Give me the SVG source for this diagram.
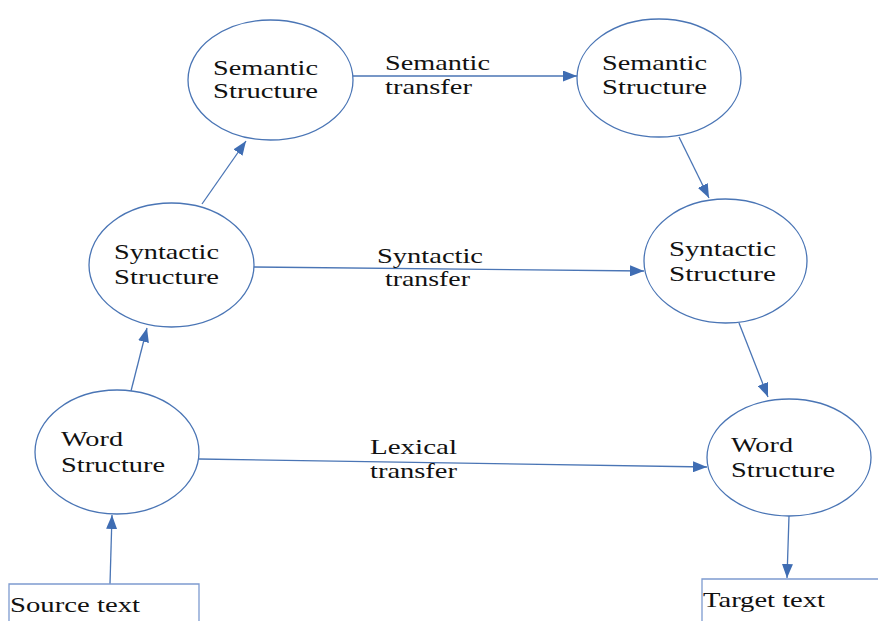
<svg xmlns="http://www.w3.org/2000/svg" width="878" height="621" viewBox="0 0 878 621">
  <style>
    .node { fill: #ffffff; stroke: #4a75b5; stroke-width: 1.3; }
    .box { fill: #ffffff; stroke: #7d9bd0; stroke-width: 1.3; }
    .edge { fill: none; stroke: #4a75b5; stroke-width: 1.3; }
    text { font-family: "Liberation Serif", "Times New Roman", serif; font-size: 21px; fill: #111111; }
  </style>
  <defs>
    <marker id="arrow" markerUnits="userSpaceOnUse" markerWidth="15" markerHeight="11" refX="14" refY="5.5" orient="auto">
      <path d="M0,0 L14,5.5 L0,11 z" fill="#3f6db3"/>
    </marker>
  </defs>
  <rect width="878" height="621" fill="#ffffff"/>

  <!-- connectors -->
  <g id="connectors">
    <line class="edge" x1="110" y1="584" x2="112" y2="515" marker-end="url(#arrow)"/>
    <line class="edge" x1="131" y1="391" x2="147" y2="328" marker-end="url(#arrow)"/>
    <line class="edge" x1="202" y1="204" x2="246" y2="141" marker-end="url(#arrow)"/>
    <line class="edge" x1="353" y1="76" x2="577" y2="76" marker-end="url(#arrow)"/>
    <line class="edge" x1="679" y1="137" x2="709" y2="198" marker-end="url(#arrow)"/>
    <line class="edge" x1="254" y1="267" x2="644" y2="271" marker-end="url(#arrow)"/>
    <line class="edge" x1="739" y1="323" x2="768" y2="397" marker-end="url(#arrow)"/>
    <line class="edge" x1="199" y1="459" x2="707" y2="467" marker-end="url(#arrow)"/>
    <line class="edge" x1="789" y1="516" x2="787" y2="578" marker-end="url(#arrow)"/>
    <text x="385" y="70" textLength="105" lengthAdjust="spacingAndGlyphs">Semantic</text>
    <text x="385" y="94" textLength="87" lengthAdjust="spacingAndGlyphs">transfer</text>
    <text x="377" y="263" textLength="106" lengthAdjust="spacingAndGlyphs">Syntactic</text>
    <text x="385" y="286" textLength="85" lengthAdjust="spacingAndGlyphs">transfer</text>
    <text x="370" y="454" textLength="87" lengthAdjust="spacingAndGlyphs">Lexical</text>
    <text x="370" y="478" textLength="87" lengthAdjust="spacingAndGlyphs">transfer</text>
  </g>

  <!-- source side -->
  <g id="source-text">
    <polyline class="box" points="9,622 9,584 199,584 199,622"/>
    <text x="10" y="612" textLength="130" lengthAdjust="spacingAndGlyphs">Source text</text>
  </g>
  <g id="word-structure-source">
    <ellipse class="node" cx="117" cy="452" rx="82" ry="62"/>
    <text x="61" y="446" textLength="62" lengthAdjust="spacingAndGlyphs">Word</text>
    <text x="61" y="472" textLength="104" lengthAdjust="spacingAndGlyphs">Structure</text>
  </g>
  <g id="syntactic-structure-source">
    <ellipse class="node" cx="171.5" cy="265" rx="82.5" ry="62"/>
    <text x="114" y="259" textLength="105" lengthAdjust="spacingAndGlyphs">Syntactic</text>
    <text x="114" y="284" textLength="105" lengthAdjust="spacingAndGlyphs">Structure</text>
  </g>
  <g id="semantic-structure-source">
    <ellipse class="node" cx="270.5" cy="80" rx="82.5" ry="60"/>
    <text x="213" y="75" textLength="105" lengthAdjust="spacingAndGlyphs">Semantic</text>
    <text x="213" y="98" textLength="105" lengthAdjust="spacingAndGlyphs">Structure</text>
  </g>

  <!-- target side -->
  <g id="semantic-structure-target">
    <ellipse class="node" cx="659" cy="78" rx="82" ry="59"/>
    <text x="602" y="70" textLength="105" lengthAdjust="spacingAndGlyphs">Semantic</text>
    <text x="602" y="94" textLength="105" lengthAdjust="spacingAndGlyphs">Structure</text>
  </g>
  <g id="syntactic-structure-target">
    <ellipse class="node" cx="725.5" cy="261" rx="81.5" ry="62"/>
    <text x="669" y="256" textLength="107" lengthAdjust="spacingAndGlyphs">Syntactic</text>
    <text x="669" y="281" textLength="107" lengthAdjust="spacingAndGlyphs">Structure</text>
  </g>
  <g id="word-structure-target">
    <ellipse class="node" cx="789" cy="457.5" rx="82" ry="58.5"/>
    <text x="731" y="452" textLength="62" lengthAdjust="spacingAndGlyphs">Word</text>
    <text x="731" y="477" textLength="104" lengthAdjust="spacingAndGlyphs">Structure</text>
  </g>
  <g id="target-text">
    <polyline class="box" points="702,622 702,579 879,579"/>
    <text x="703" y="607" textLength="122" lengthAdjust="spacingAndGlyphs">Target text</text>
  </g>
</svg>
